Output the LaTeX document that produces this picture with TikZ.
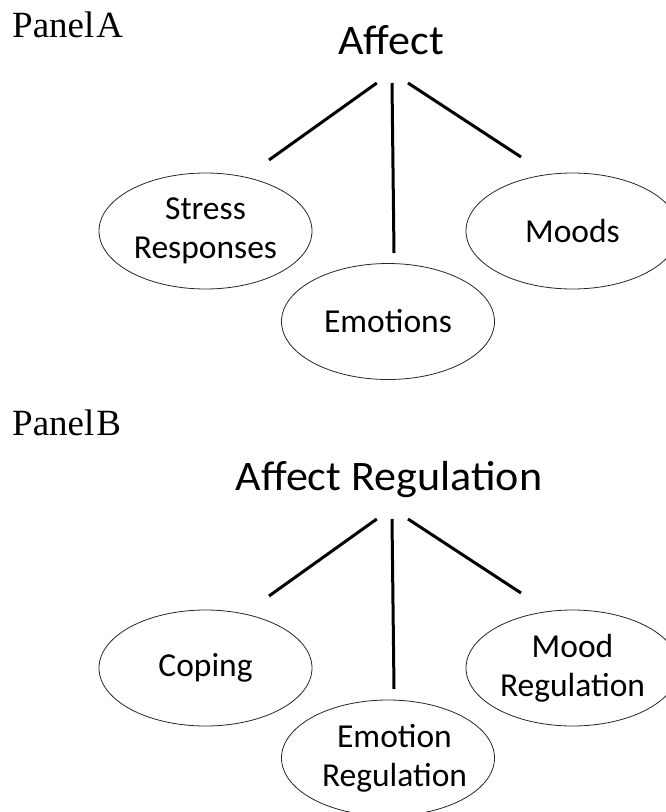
\documentclass[tikz,border=0pt]{standalone}
\usepackage{graphicx}
\usepackage{fontspec}
\setmainfont{Carlito}
\newfontfamily\panelfont{Liberation Serif}
\usetikzlibrary{shapes.geometric}
\begin{document}
\begin{tikzpicture}[x=1pt,y=-1pt,
  paneltitle/.style={anchor=base west,inner sep=0pt,font={\panelfont\fontsize{37}{44}\selectfont}},
  headtitle/.style={anchor=base,inner sep=0pt,font={\fontsize{42}{50}\selectfont}},
  bubble/.style={ellipse,draw=black!85,line width=0.8pt,minimum width=213pt,minimum height=116pt,inner sep=0pt,align=center,font={\fontsize{33.5}{39}\selectfont}},
  bubbletext/.style={inner sep=0pt,align=center,font={\fontsize{33.5}{39}\selectfont}},
  branch/.style={line width=3pt,black}]
\useasboundingbox (0,0) rectangle (666,812);
\clip (0,0) rectangle (666,812);
% Panel A
\node[paneltitle] (pa) at (12,37.5) {Panel\hspace{2pt}A};
\node[headtitle] (affect) at (391,54) {\scalebox{1.05}[1]{Affect}};
\node[bubble] (stress) at (205.5,231) {Stress\\Responses};
\node[bubble] (moods) at (572.5,231) {Moods};
\node[bubble] (emotions) at (388,321.5) {Emotions};
\coordinate (aL) at (376.8,83);
\coordinate (aC) at (392,83);
\coordinate (aR) at (408,83);
\coordinate (sL) at (269,160);
\coordinate (eC) at (394,253);
\coordinate (mR) at (521,157);
\draw[branch] (aL) -- (sL);
\draw[branch] (aC) -- (eC);
\draw[branch] (aR) -- (mR);
% Panel B
\node[paneltitle] (pb) at (12,435) {Panel\hspace{2pt}B};
\node[headtitle] (affreg) at (389,490) {\scalebox{1.05}[1]{Affect Regulation}};
\node[bubble] (coping) at (205.5,668) {Coping};
\node[bubble] (moodreg) at (572.5,668) {Mood\\Regulation};
\node[bubble] (emoreg) at (388,758) {};
\node[bubbletext] (emoregtext) at (394.5,758) {Emotion\\Regulation};
\coordinate (bL) at (376.8,519);
\coordinate (bC) at (392,519);
\coordinate (bR) at (408,519);
\coordinate (cL) at (269,596);
\coordinate (erC) at (394,689);
\coordinate (mrR) at (521,593);
\draw[branch] (bL) -- (cL);
\draw[branch] (bC) -- (erC);
\draw[branch] (bR) -- (mrR);
\end{tikzpicture}
\end{document}
